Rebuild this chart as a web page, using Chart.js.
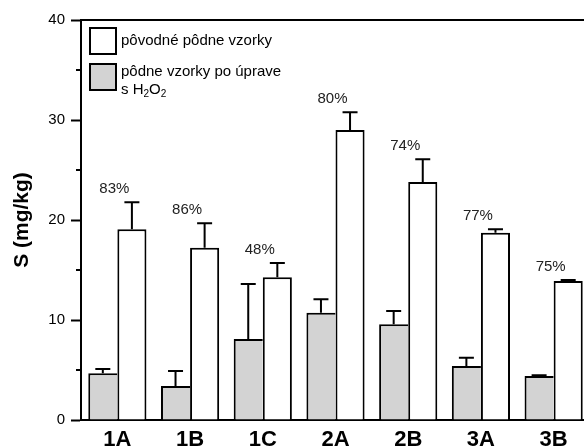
<!DOCTYPE html>
<html>
<head>
<meta charset="utf-8">
<script src="https://cdn.jsdelivr.net/npm/chart.js@4.4.1/dist/chart.umd.min.js"></script>
<style>
  html, body { margin: 0; padding: 0; background: #fff; overflow: hidden; }
  #wrap { position: relative; width: 600px; height: 447px; }
  .lg-box { position: absolute; box-sizing: border-box; border: 2px solid #000; width: 28px; height: 28px; }
  .lg-text { position: absolute; font: 15px "Liberation Sans", Arial, sans-serif; line-height: 18px; color: #000; white-space: nowrap; }
  .lg-text .sub { font-size: 10px; vertical-align: -3px; line-height: 0; }
</style>
</head>
<body>
<div id="wrap">
  <canvas id="chart"></canvas>
  <div class="lg-box" style="left:89px;top:27px;background:#fff;"></div>
  <div class="lg-text" style="left:121px;top:31px;">pôvodné pôdne vzorky</div>
  <div class="lg-box" style="left:89px;top:63px;background:#d3d3d3;"></div>
  <div class="lg-text" style="left:121px;top:62px;">pôdne vzorky po úprave<br>s H<span class="sub">2</span>O<span class="sub">2</span></div>
</div>
<script>
const categories = ["1A", "1B", "1C", "2A", "2B", "3A", "3B"];
// pôdne vzorky po úprave s H2O2 (gray)
const treatedValues = [4.67, 3.4, 8.1, 10.73, 9.57, 5.4, 4.4];
const treatedErrors = [0.43, 1.5, 5.5, 1.34, 1.33, 0.83, 0.07];
// pôvodné pôdne vzorky (white)
const originalValues = [19.07, 17.23, 14.27, 29.0, 23.8, 18.73, 13.9];
const originalErrors = [2.7, 2.44, 1.43, 1.77, 2.27, 0.34, 0.1];
const pctLabels = ["83%", "86%", "48%", "80%", "74%", "77%", "75%"];
const yTicks = [0, 10, 20, 30, 40];
const yMinorTicks = [5, 15, 25, 35];

const errorBarsPlugin = {
    id: 'errorBars',
    afterDatasetsDraw(chart) {
        const ctx = chart.ctx;
        const y = chart.scales.y;
        const errs = [treatedErrors, originalErrors];
        ctx.save();
        ctx.strokeStyle = '#000';
        ctx.lineWidth = 2;
        chart.data.datasets.forEach((ds, di) => {
            const meta = chart.getDatasetMeta(di);
            meta.data.forEach((bar, i) => {
                const top = y.getPixelForValue(ds.data[i] + errs[di][i]);
                ctx.beginPath();
                ctx.moveTo(bar.x, bar.y);
                ctx.lineTo(bar.x, top);
                ctx.moveTo(bar.x - 7.5, top);
                ctx.lineTo(bar.x + 7.5, top);
                ctx.stroke();
            });
        });
        // percent labels above white bars
        const meta = chart.getDatasetMeta(1);
        ctx.fillStyle = '#222';
        ctx.font = '15px "Liberation Sans", Arial, sans-serif';
        ctx.textAlign = 'center';
        ctx.textBaseline = 'middle';
        meta.data.forEach((bar, i) => {
            const top = y.getPixelForValue(originalValues[i] + originalErrors[i]);
            ctx.fillText(pctLabels[i], bar.x - bar.width / 2 - 3, top - 13);
        });
        ctx.restore();
    },
    afterDraw(chart) {
        const ctx = chart.ctx;
        const a = chart.chartArea;
        const y = chart.scales.y;
        ctx.save();
        ctx.strokeStyle = '#000';
        ctx.lineWidth = 2;
        ctx.beginPath();
        ctx.moveTo(a.left, a.top);
        ctx.lineTo(a.right, a.top);
        yMinorTicks.forEach(v => {
            const py = y.getPixelForValue(v);
            ctx.moveTo(a.left - 5, py);
            ctx.lineTo(a.left, py);
        });
        ctx.stroke();
        ctx.restore();
    }
};

new Chart(document.getElementById('chart').getContext('2d'), {
    type: 'bar',
    data: {
        labels: categories,
        datasets: [
            {
                label: "pôdne vzorky po úprave s H2O2",
                data: treatedValues,
                backgroundColor: "#d3d3d3",
                borderColor: "#000",
                borderWidth: { top: 2, left: 2, right: 0, bottom: 0 },
                borderSkipped: false
            },
            {
                label: "pôvodné pôdne vzorky",
                data: originalValues,
                backgroundColor: "#fff",
                borderColor: "#000",
                borderWidth: { top: 2, left: 2, right: 2, bottom: 0 },
                borderSkipped: false
            }
        ]
    },
    options: {
        responsive: true,
        maintainAspectRatio: false,
        animation: false,
        layout: { padding: { top: 20, right: 10, left: 0, bottom: 0 } },
        datasets: { bar: { categoryPercentage: 0.8, barPercentage: 1.0 } },
        plugins: {
            legend: { display: false },
            tooltip: { enabled: false }
        },
        scales: {
            x: {
                grid: { display: false },
                border: { display: true, color: '#000', width: 2 },
                ticks: {
                    color: '#000',
                    padding: -1,
                    font: { family: '"Liberation Sans", Arial, sans-serif', size: 22, weight: 'bold' }
                },
                afterFit: (scale) => { scale.height = 27; }
            },
            y: {
                min: 0,
                max: 40,
                afterBuildTicks: (scale) => { scale.ticks = yTicks.map(v => ({ value: v })); },
                grid: { drawOnChartArea: false, drawTicks: true, tickLength: 10, tickWidth: 2, tickColor: '#000', color: '#000' },
                border: { display: true, color: '#000', width: 2 },
                ticks: {
                    color: '#000',
                    padding: 6,
                    font: { family: '"Liberation Sans", Arial, sans-serif', size: 15 }
                },
                title: {
                    display: true,
                    text: 'S (mg/kg)',
                    color: '#000',
                    padding: { top: 10, bottom: 0 },
                    font: { family: '"Liberation Sans", Arial, sans-serif', size: 21, weight: 'bold' }
                },
                afterFit: (scale) => { scale.width = 81; }
            }
        }
    },
    plugins: [errorBarsPlugin]
});
</script>
</body>
</html>
